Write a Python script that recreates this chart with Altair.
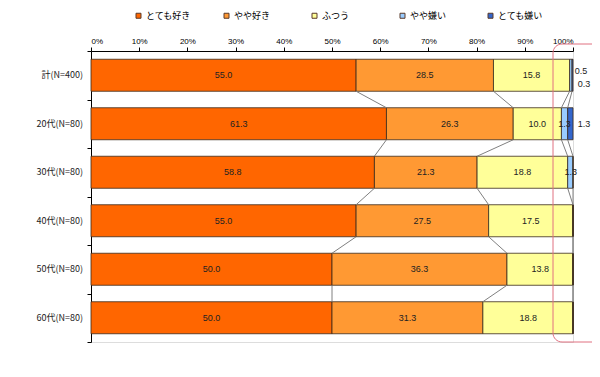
import altair as alt
import pandas as pd

categories = ["計(N=400)", "20代(N=80)", "30代(N=80)", "40代(N=80)", "50代(N=80)", "60代(N=80)"]
series = ["とても好き", "やや好き", "ふつう", "やや嫌い", "とても嫌い"]
colors = ["#FF6600", "#FF9933", "#FFFF99", "#99CCFF", "#3366CC"]

v_very_like = [55.0, 61.3, 58.8, 55.0, 50.0, 50.0]
v_like = [28.5, 26.3, 21.3, 27.5, 36.3, 31.3]
v_neutral = [15.8, 10.0, 18.8, 17.5, 13.8, 18.8]
v_dislike = [0.5, 1.3, 1.3, 0.0, 0.0, 0.0]
v_very_dislike = [0.3, 1.3, 0.0, 0.0, 0.0, 0.0]

all_vals = [v_very_like, v_like, v_neutral, v_dislike, v_very_dislike]
FONT = "Noto Sans CJK JP"
BAR_H = 0.33  # half bar thickness in band units

rows = []
for ci, cat in enumerate(categories):
    cum = 0.0
    for si, s in enumerate(series):
        v = all_vals[si][ci]
        rows.append(dict(cat=cat, idx=ci, series=s, order=si, value=v,
                         start=cum, end=cum + v, mid=cum + v / 2,
                         y0=ci + 0.5 - BAR_H, y1=ci + 0.5 + BAR_H, yc=ci + 0.5))
        cum += v
df = pd.DataFrame(rows)

# connector lines between adjacent bars
conn = []
for ci in range(len(categories) - 1):
    for si in range(4):
        a = df[(df.idx == ci) & (df.order == si)].iloc[0]
        b = df[(df.idx == ci + 1) & (df.order == si)].iloc[0]
        conn.append(dict(x=min(a.end, 100), x2=min(b.end, 100),
                         y=ci + 0.5 + BAR_H, y2=ci + 1.5 - BAR_H))
conn_df = pd.DataFrame(conn)

W, H = 482, 291
xs = alt.Scale(domain=[0, 100], clamp=True)
ys = alt.Scale(domain=[0, 6], reverse=True, nice=False, zero=False)

base = alt.Chart(df)

bars = base.mark_rect(stroke="#3a2a1a", strokeWidth=0.8).encode(
    x=alt.X("start:Q", scale=xs,
            axis=alt.Axis(orient="top", values=list(range(0, 101, 10)),
                          labelExpr="datum.value + '%'", grid=False,
                          title=None, labelFontSize=8, labelFont="Arial",
                          tickSize=4, domainColor="#000", tickColor="#000",
                          labelColor="#000", labelPadding=2)),
    x2="end:Q",
    y=alt.Y("y0:Q", scale=ys,
            axis=alt.Axis(values=list(range(0, 7)), labels=False, grid=False,
                          title=None, tickSize=4, domainColor="#000",
                          tickColor="#000")),
    y2="y1:Q",
    color=alt.Color("series:N", scale=alt.Scale(domain=series, range=colors),
                    sort=series,
                    legend=alt.Legend(orient="none", legendX=43, legendY=-40,
                                      direction="horizontal", title=None,
                                      symbolType="square", symbolSize=25,
                                      symbolStrokeColor="#5a3a2a", symbolStrokeWidth=1,
                                      labelFont=FONT, labelFontSize=9,
                                      columnPadding=30, gridAlign="all", columns=5,
                                      symbolOffset=0, labelOffset=3)),
    order="order:Q",
)

connectors = alt.Chart(conn_df).mark_rule(color="#808080", strokeWidth=1).encode(
    x=alt.X("x:Q", scale=xs), x2="x2:Q",
    y=alt.Y("y:Q", scale=ys), y2="y2:Q",
)

inside = base.transform_filter("datum.value >= 1 && !(datum.idx == 1 && datum.order == 4)").mark_text(
    font="Arial", fontSize=9, color="#222").encode(
    x=alt.X("mid:Q", scale=xs), y=alt.Y("yc:Q", scale=ys),
    text=alt.Text("value:Q", format=".1f"),
)

out1 = base.transform_filter("datum.idx == 0 && datum.order == 3").mark_text(
    font="Arial", fontSize=9, color="#222", dx=8, dy=-4).encode(
    x=alt.datum(100), y=alt.Y("yc:Q", scale=ys), text=alt.Text("value:Q", format=".1f"))
out2 = base.transform_filter("datum.idx == 0 && datum.order == 4").mark_text(
    font="Arial", fontSize=9, color="#222", dx=11, dy=9).encode(
    x=alt.datum(100), y=alt.Y("yc:Q", scale=ys), text=alt.Text("value:Q", format=".1f"))
out3 = base.transform_filter("datum.idx == 1 && datum.order == 4").mark_text(
    font="Arial", fontSize=9, color="#222", dx=11).encode(
    x=alt.datum(100), y=alt.Y("yc:Q", scale=ys), text=alt.Text("value:Q", format=".1f"))

cat_labels = base.transform_filter("datum.order == 0").mark_text(
    font=FONT, fontSize=9, align="right", color="#222", dx=-8).encode(
    x=alt.datum(0), y=alt.Y("yc:Q", scale=ys), text="cat:N")

highlight = alt.Chart(pd.DataFrame({"a": [0]})).mark_rect(
    fill=None, stroke="#E07080", strokeWidth=1, cornerRadius=9).encode(
    x=alt.value(462), x2=alt.value(540), y=alt.value(-7), y2=alt.value(291))

chart = alt.layer(bars, connectors, inside, out1, out2, out3, cat_labels, highlight).properties(
    width=W, height=H,
    autosize=alt.AutoSizeParams(type="none"),
    padding={"left": 83, "top": 43, "right": 19, "bottom": 14},
).configure_view(stroke=None).configure(background="white")

chart.save("out.html", embed_options={"renderer": "svg", "actions": False})
